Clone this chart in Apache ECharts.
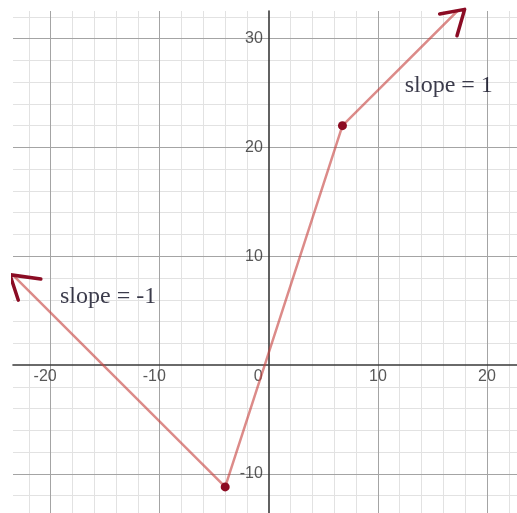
<!DOCTYPE html>
<html>
<head>
<meta charset="utf-8">
<script src="https://cdn.jsdelivr.net/npm/echarts@6/dist/echarts.min.js"></script>
<style>
  html, body { margin: 0; padding: 0; background: #fff; }
  #chart { width: 517px; height: 513px; }
</style>
</head>
<body>
<div id="chart"></div>
<script>
// Visible window of the plane
const xRange = [-23.45, 22.75];
const yRange = [-13.6, 32.54];

// Grid lines (minor every 2, major every 10) and tick labels
const xMinor = [-22, -18, -16, -14, -12, -8, -6, -4, -2, 2, 4, 6, 8, 12, 14, 16, 18, 22];
const yMinor = [-12, -8, -6, -4, -2, 2, 4, 6, 8, 12, 14, 16, 18, 22, 24, 26, 28, 32];
const xMajor = [-20, -10, 10, 20];
const yMajor = [-10, 10, 20, 30];
const xTickLabels = [-20, -10, 0, 10, 20];
const yTickLabels = [-10, 10, 20, 30];

// Piecewise graph: slope -1, then steep middle piece, then slope 1
const pathX = [-23.5, -4, 6.75, 17.4];
const pathY = [8.3, -11.2, 22, 32.65];

// Corner points
const cornerX = [-4, 6.75];
const cornerY = [-11.2, 22];

// Hand-drawn arrow heads (barb end, tip, barb end)
const leftArrowX = [-20.9, -23.73, -22.97];
const leftArrowY = [7.9, 8.3, 5.97];
const rightArrowX = [15.66, 17.95, 17.25];
const rightArrowY = [32.26, 32.69, 30.27];

// Slope annotations
const noteText = ['slope = 1', 'slope = -1'];
const noteX = [12.45, -19.14];
const noteY = [25.7, 6.25];

const zip = (xs, ys) => xs.map((x, i) => [x, ys[i]]);
const vLines = xs => xs.map(x => ({ coords: [[x, yRange[0]], [x, yRange[1]]] }));
const hLines = ys => ys.map(y => ({ coords: [[xRange[0], y], [xRange[1], y]] }));

const gridSeries = (data, color, width, z) => ({
  type: 'lines',
  coordinateSystem: 'cartesian2d',
  polyline: false,
  silent: true,
  z: z,
  lineStyle: { color: color, width: width, opacity: 1 },
  data: data
});

const tickFont = {
  fontFamily: 'Liberation Sans, Arial, sans-serif',
  fontSize: 16,
  color: '#2e2e2e'
};

// Tick numbers sit along the zero lines, as on a graphing calculator
const xTickSeries = {
  type: 'scatter',
  silent: true,
  symbolSize: 0,
  z: 4,
  data: xTickLabels.map(v => ({ value: [v, 0] })),
  label: {
    show: true,
    position: 'bottom',
    distance: 4,
    formatter: p => {
      const v = p.value[0];
      if (v === 0) return '{z|0}';
      if (v < 0) return '{n|' + v + '}';
      return '{p|' + v + '}';
    },
    ...tickFont,
    rich: {
      p: { ...tickFont },
      n: { ...tickFont, padding: [0, 11, 0, 0] },
      z: { ...tickFont, padding: [0, 21, 0, 0] }
    }
  }
};

const yTickSeries = {
  type: 'scatter',
  silent: true,
  symbolSize: 0,
  z: 4,
  data: yTickLabels.map(v => ({ value: [0, v] })),
  label: {
    show: true,
    position: 'left',
    distance: 6,
    formatter: p => String(p.value[1]),
    ...tickFont
  }
};

const axisLineStyle = { show: true, onZero: true, lineStyle: { color: '#3a3a3a', width: 1.6 } };

const chart = echarts.init(document.getElementById('chart'), null, { renderer: 'canvas' });

chart.setOption({
  animation: false,
  backgroundColor: '#ffffff',
  grid: { left: 13, top: 11, right: 0, bottom: 0, containLabel: false, outerBoundsMode: 'none' },
  xAxis: {
    type: 'value',
    min: xRange[0],
    max: xRange[1],
    z: 3,
    axisLine: axisLineStyle,
    axisTick: { show: false },
    splitLine: { show: false },
    axisLabel: { show: false }
  },
  yAxis: {
    type: 'value',
    min: yRange[0],
    max: yRange[1],
    z: 3,
    axisLine: axisLineStyle,
    axisTick: { show: false },
    splitLine: { show: false },
    axisLabel: { show: false }
  },
  series: [
    gridSeries(vLines(xMinor).concat(hLines(yMinor)), '#e2e2e2', 1, 1),
    gridSeries(vLines(xMajor).concat(hLines(yMajor)), '#a4a4a4', 1, 2),
    xTickSeries,
    yTickSeries,
    {
      type: 'line',
      data: zip(pathX, pathY),
      showSymbol: false,
      symbol: 'none',
      clip: true,
      z: 5,
      lineStyle: { color: 'rgba(199,68,64,0.62)', width: 2.5 }
    },
    {
      type: 'scatter',
      data: zip(cornerX, cornerY),
      symbol: 'circle',
      symbolSize: 9,
      z: 6,
      itemStyle: { color: '#8c0b22', opacity: 1 }
    },
    ...[zip(leftArrowX, leftArrowY), zip(rightArrowX, rightArrowY)].map(pts => ({
      type: 'line',
      data: pts,
      showSymbol: false,
      symbol: 'none',
      clip: false,
      z: 7,
      lineStyle: { color: '#8b0c24', width: 3.5, cap: 'round', join: 'round' }
    })),
    {
      type: 'scatter',
      data: noteText.map((t, i) => ({ value: [noteX[i], noteY[i]], name: t })),
      symbolSize: 0,
      z: 8,
      label: {
        show: true,
        position: 'right',
        distance: 0,
        align: 'left',
        verticalAlign: 'middle',
        formatter: p => p.name,
        fontFamily: 'Liberation Serif, Times New Roman, serif',
        fontSize: 24,
        color: '#0a0a1e'
      }
    }
  ]
});
</script>
</body>
</html>
